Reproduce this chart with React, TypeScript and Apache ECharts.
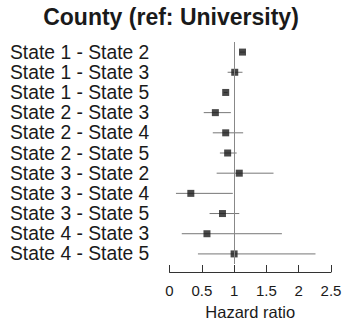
import React, { useEffect, useRef } from "react";
import * as echarts from "echarts";

const categories = [
  "State 1 - State 2",
  "State 1 - State 3",
  "State 1 - State 5",
  "State 2 - State 3",
  "State 2 - State 4",
  "State 2 - State 5",
  "State 3 - State 2",
  "State 3 - State 4",
  "State 3 - State 5",
  "State 4 - State 3",
  "State 4 - State 5",
];
const estimates = [1.13, 1.01, 0.87, 0.71, 0.87, 0.9, 1.08, 0.33, 0.82, 0.58, 1.0];
const lower = [1.09, 0.9, 0.84, 0.53, 0.67, 0.78, 0.73, 0.1, 0.62, 0.19, 0.44];
const upper = [1.17, 1.13, 0.9, 0.95, 1.14, 1.04, 1.61, 0.98, 1.08, 1.74, 2.26];
const xTicks = [0, 0.5, 1, 1.5, 2, 2.5];

const FONT = '"Liberation Sans", Arial, Helvetica, sans-serif';

export default function App() {
  const ref = useRef<HTMLDivElement>(null);
  useEffect(() => {
    if (!ref.current) return;
    const chart = echarts.init(ref.current, null, { renderer: "svg" });
    chart.setOption({
      animation: false,
      backgroundColor: "#ffffff",
      title: {
        text: "County (ref: University)",
        left: "center",
        top: 0,
        textStyle: { fontFamily: FONT, fontSize: 23, fontWeight: "bold", color: "#1a1a1a" },
      },
      grid: {
        left: 169.5,
        right: 11,
        top: 42,
        bottom: 55,
        containLabel: false,
        outerBoundsMode: "none",
      },
      xAxis: {
        type: "value",
        min: xTicks[0],
        max: xTicks[xTicks.length - 1],
        interval: 0.5,
        offset: 8,
        splitLine: { show: false },
        axisLine: { show: true, lineStyle: { color: "#333", width: 1 } },
        axisTick: { show: true, inside: true, length: 7, lineStyle: { color: "#333", width: 1 } },
        axisLabel: {
          margin: 11,
          fontFamily: FONT,
          fontSize: 15,
          color: "#1a1a1a",
          formatter: (v: number) => String(v),
        },
        name: "Hazard ratio",
        nameLocation: "middle",
        nameGap: 31,
        nameTextStyle: { fontFamily: FONT, fontSize: 16.5, color: "#1a1a1a" },
      },
      yAxis: {
        type: "category",
        data: categories,
        inverse: true,
        axisLine: { show: false },
        axisTick: { show: false },
        splitLine: { show: false },
        axisLabel: {
          interval: 0,
          align: "left",
          margin: 159.5,
          fontFamily: FONT,
          fontSize: 19.3,
          color: "#1a1a1a",
        },
      },
      series: [
        {
          type: "custom",
          data: categories.map((_, i) => [lower[i], upper[i], i]),
          renderItem: (params: any, api: any) => {
            const lo = api.coord([api.value(0), api.value(2)]);
            const hi = api.coord([api.value(1), api.value(2)]);
            return {
              type: "line",
              shape: { x1: lo[0], y1: lo[1], x2: hi[0], y2: hi[1] },
              style: { stroke: "#777", lineWidth: 1 },
            };
          },
          markLine: {
            silent: true,
            symbol: "none",
            label: { show: false },
            lineStyle: { color: "#888", width: 1, type: "solid" },
            data: [{ xAxis: 1 }],
          },
          z: 1,
        },
        {
          type: "scatter",
          data: categories.map((c, i) => [estimates[i], c]),
          symbol: "rect",
          symbolSize: 7,
          itemStyle: { color: "#1a1a1a" },
          z: 3,
        },
      ],
    });
    return () => chart.dispose();
  }, []);
  return (
    <div
      ref={ref}
      style={{ position: "absolute", left: 0, top: 0, width: 342, height: 319 }}
    />
  );
}
